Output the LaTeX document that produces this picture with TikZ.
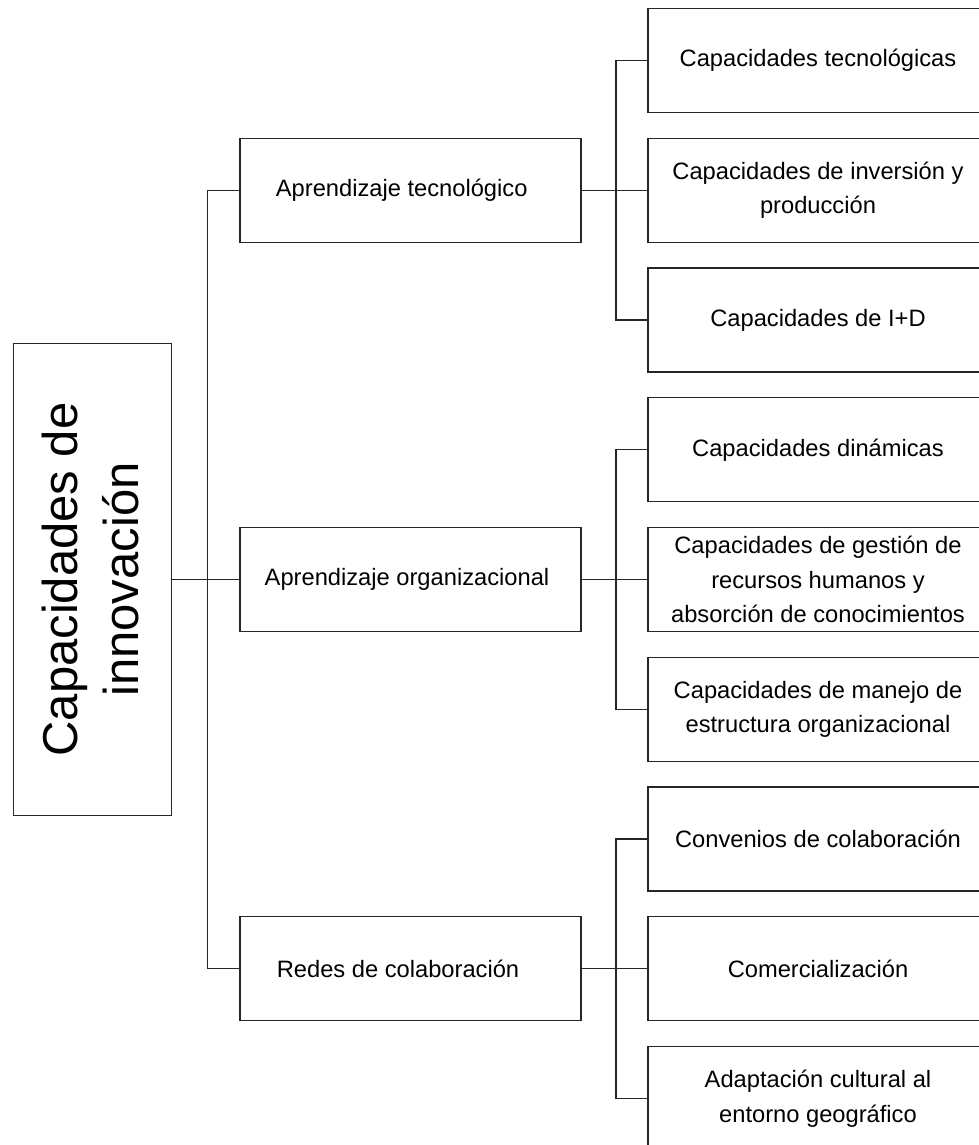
\documentclass[tikz,border=0pt]{standalone}
\usepackage{fontspec}
\setmainfont{Liberation Sans}
\begin{document}
\begin{tikzpicture}[x=1pt,y=-1pt,
  line/.style={draw=black!85,line width=1.2pt},
  box/.style={line,rectangle,inner sep=0pt,align=center,font=\fontsize{23.7}{34.5}\selectfont},
  midbox/.style={box,minimum width=341pt,minimum height=104pt},
  leaf/.style={box,minimum width=340pt,minimum height=104pt},
  lbl/.style={font=\fontsize{23.7}{34.5}\selectfont,inner sep=0pt}]
\useasboundingbox (0,0) rectangle (979,1145);
\clip (0,0) rectangle (979,1145);
% root
\node[box,minimum width=158.4pt,minimum height=471.7pt] (root) at (92.5,579.5) {};
\node[rotate=90,align=center,inner sep=0pt,font=\fontsize{49}{61}\selectfont] (roottext) at (90,579.5) {Capacidades de\\innovación};
% middle level
\node[midbox,label={[lbl,xshift=-8.8pt]center:Aprendizaje tecnológico}] (m1) at (410.5,190.25) {};
\node[midbox,label={[lbl,xshift=-3.5pt]center:Aprendizaje organizacional}] (m2) at (410.5,579.5) {};
\node[midbox,label={[lbl,xshift=-12.5pt]center:Redes de colaboración}] (m3) at (410.5,968.75) {};
% leaves
\node[leaf] (r1) at (818,60.5) {Capacidades tecnológicas};
\node[leaf] (r2) at (818,190.25) {Capacidades de inversión y\\producción};
\node[leaf] (r3) at (818,320) {Capacidades de I+D};
\node[leaf] (r4) at (818,449.75) {Capacidades dinámicas};
\node[leaf] (r5) at (818,579.5) {Capacidades de gestión de\\recursos humanos y\\absorción de conocimientos};
\node[leaf] (r6) at (818,709.25) {Capacidades de manejo de\\estructura organizacional};
\node[leaf] (r7) at (818,839) {Convenios de colaboración};
\node[leaf] (r8) at (818,968.75) {Comercialización};
\node[leaf] (r9) at (818,1098.5) {Adaptación cultural al\\entorno geográfico};
% junctions
\coordinate (jl) at (207.3,579.5);
\coordinate (ja) at (616,190.25);
\coordinate (jb) at (616,579.5);
\coordinate (jc) at (616,968.75);
% connectors
\draw[line] (root.east) -- (m2.west);
\draw[line] (m1.west) -| (jl) |- (m3.west);
\draw[line] (m1.east) -- (r2.west);
\draw[line] (r1.west) -| (ja) |- (r3.west);
\draw[line] (m2.east) -- (r5.west);
\draw[line] (r4.west) -| (jb) |- (r6.west);
\draw[line] (m3.east) -- (r8.west);
\draw[line] (r7.west) -| (jc) |- (r9.west);
\end{tikzpicture}
\end{document}
